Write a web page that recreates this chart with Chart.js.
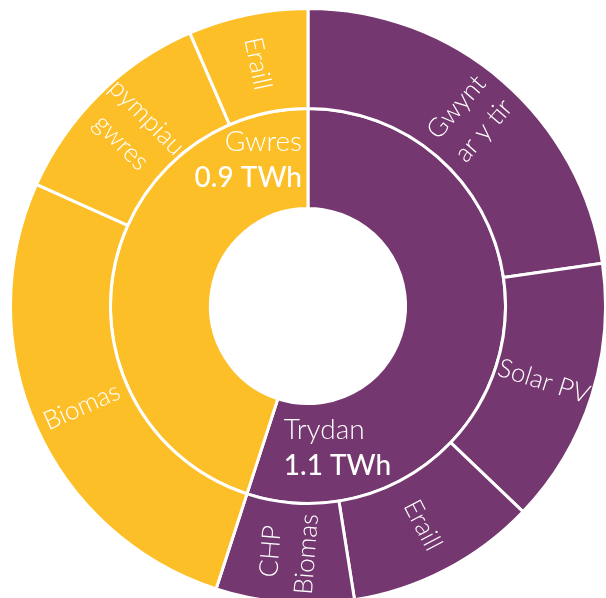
<!DOCTYPE html>
<html>
<head>
<meta charset="utf-8">
<script src="https://cdn.jsdelivr.net/npm/chart.js@4.4.1/dist/chart.umd.min.js"></script>
<style>
  html, body { margin: 0; padding: 0; overflow: hidden; background: #fff; }
  #energyChart { position: absolute; left: 9px; top: 7px; }
</style>
</head>
<body>
<canvas id="energyChart" width="598" height="598"></canvas>
<script>
"use strict";

const PURPLE = '#74376F';
const YELLOW = '#FCBF27';
const FONT = 'Lato, "Open Sans", sans-serif';

// inner ring: totals by type (TWh)
const typeLabels = ['Trydan', 'Gwres'];
const typeValues = [1.1, 0.9];
const typeColors = [PURPLE, YELLOW];

// outer ring: breakdown by source (TWh), clockwise from the top
const sourceLabels = [['Gwynt', 'ar y tir'], ['Solar PV'], ['Eraill'], ['CHP', 'Biomas'], ['Biomas'], ['pympiau', 'gwres'], ['Eraill']];
const sourceValues = [0.454, 0.289, 0.207, 0.150, 0.534, 0.236, 0.130];
const sourceColors = [PURPLE, PURPLE, PURPLE, PURPLE, YELLOW, YELLOW, YELLOW];

const LINE_GAP = 36;

// Radial text in the outer ring, "type + value" text in the inner ring
const ringLabels = {
  id: 'ringLabels',
  afterDatasetsDraw(chart) {
    const ctx = chart.ctx;
    ctx.save();
    ctx.fillStyle = '#fff';
    ctx.textBaseline = 'middle';

    chart.data.datasets.forEach((ds, di) => {
      const meta = chart.getDatasetMeta(di);
      meta.data.forEach((arc, i) => {
        const {x, y, startAngle, endAngle, innerRadius, outerRadius} =
          arc.getProps(['x', 'y', 'startAngle', 'endAngle', 'innerRadius', 'outerRadius'], true);
        const r = (innerRadius + outerRadius) / 2;

        if (ds.ring === 'outer') {
          const lines = ds.labels[i];
          const mid = (startAngle + endAngle) / 2;
          // keep text from going upside down on the left half
          const rot = Math.cos(mid) < 0 ? mid + Math.PI : mid;
          ctx.save();
          ctx.translate(x + Math.cos(mid) * r, y + Math.sin(mid) * r);
          ctx.rotate(rot);
          ctx.textAlign = 'center';
          ctx.font = `300 26px ${FONT}`;
          lines.forEach((line, k) => {
            ctx.fillText(line, 0, (k - (lines.length - 1) / 2) * LINE_GAP);
          });
          ctx.restore();
        } else {
          // anchored at the end edge of the arc, on its inside
          const ex = x + Math.cos(endAngle) * r;
          const ey = y + Math.sin(endAngle) * r;
          const side = Math.sign(Math.sin(endAngle));
          const tx = ex + side * (6 + 50 * Math.abs(Math.cos(endAngle)));
          ctx.textAlign = side > 0 ? 'left' : 'right';
          ctx.font = `300 28px ${FONT}`;
          ctx.fillText(ds.labels[i], tx, ey + 2 - LINE_GAP / 2);
          ctx.font = `500 28px ${FONT}`;
          ctx.fillText(`${ds.data[i].toFixed(1)} TWh`, tx, ey + 2 + LINE_GAP / 2);
        }
      });
    });
    ctx.restore();
  }
};

new Chart(document.getElementById('energyChart'), {
  type: 'doughnut',
  data: {
    labels: sourceLabels,
    datasets: [{
      ring: 'outer',
      labels: sourceLabels,
      data: sourceValues,
      backgroundColor: sourceColors,
      borderColor: '#fff',
      borderWidth: 3
    }, {
      ring: 'inner',
      labels: typeLabels,
      data: typeValues,
      backgroundColor: typeColors,
      borderColor: '#fff',
      borderWidth: 3
    }]
  },
  options: {
    responsive: false,
    animation: false,
    cutout: '32.8%',
    hoverOffset: 0,
    layout: { padding: 0 },
    plugins: {
      legend: { display: false },
      tooltip: { enabled: false }
    }
  },
  plugins: [ringLabels]
});
</script>
</body>
</html>
